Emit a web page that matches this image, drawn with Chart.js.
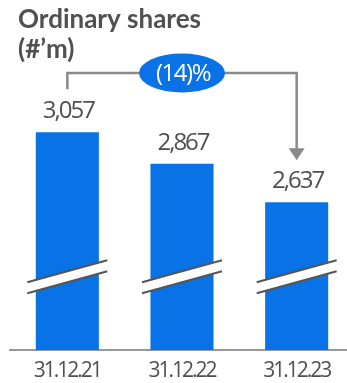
<!DOCTYPE html>
<html>
<head>
<meta charset="utf-8">
<script src="https://cdn.jsdelivr.net/npm/chart.js@4.4.1/dist/chart.umd.min.js"></script>
<style>
  html, body { margin: 0; padding: 0; background: #fff; overflow: hidden; }
  #wrap { width: 347px; height: 383px; overflow: hidden; }
</style>
</head>
<body>
<div id="wrap"><canvas id="myChart" width="354" height="383"></canvas></div>
<script>
const categories = ['31.12.21', '31.12.22', '31.12.23'];
const shares = [3057, 2867, 2637];
const valueLabels = ['3,057', '2,867', '2,637'];
const changeLabel = '(14)%';
const titleLines = ['Ordinary shares', '(#’m)'];

// truncated value axis, the break marks sit at breakValue
const axisMin = 1750;
const axisMax = 3250;
const breakValue = 2190;

const BLUE = '#0872E6';
const TEXT = '#505050';
const LINE = '#8a8a8a';
const FONT = "'Open Sans', sans-serif";

const decorations = {
    id: 'decorations',
    beforeDraw(chart) {
        chart.ctx.letterSpacing = '-2px';
    },
    afterDatasetsDraw(chart) {
        const ctx = chart.ctx;
        const y = chart.scales.y;
        const meta = chart.getDatasetMeta(0);

        // break marks across each bar
        const yb = y.getPixelForValue(breakValue);
        meta.data.forEach(function(bar) {
            const cx = bar.x;
            ctx.save();
            ctx.beginPath();
            ctx.moveTo(cx - 40, yb + 5.5 + 11);
            ctx.lineTo(cx + 40, yb + 5.5 - 11);
            ctx.lineTo(cx + 40, yb - 5.5 - 11);
            ctx.lineTo(cx - 40, yb - 5.5 + 11);
            ctx.closePath();
            ctx.fillStyle = '#fff';
            ctx.fill();
            ctx.strokeStyle = '#555';
            ctx.lineWidth = 2;
            ctx.beginPath();
            ctx.moveTo(cx - 40, yb - 5.5 + 11);
            ctx.lineTo(cx + 40, yb - 5.5 - 11);
            ctx.moveTo(cx - 40, yb + 5.5 + 11);
            ctx.lineTo(cx + 40, yb + 5.5 - 11);
            ctx.stroke();
            ctx.restore();
        });

        // value labels above bars
        ctx.save();
        ctx.font = '24px ' + FONT;
        ctx.fillStyle = TEXT;
        ctx.textAlign = 'center';
        ctx.textBaseline = 'middle';
        ctx.letterSpacing = '-2px';
        meta.data.forEach(function(bar, i) {
            ctx.fillText(valueLabels[i], bar.x + 1, bar.y - 21);
        });
        ctx.restore();

        // change connector from first to last bar
        const x0 = meta.data[0].x, x1 = meta.data[2].x, xm = meta.data[1].x;
        const lineY = 73;
        const tipY = meta.data[2].y - 42;
        ctx.save();
        ctx.strokeStyle = LINE;
        ctx.lineWidth = 2.5;
        ctx.beginPath();
        ctx.moveTo(x0, meta.data[0].y - 43);
        ctx.lineTo(x0, lineY);
        ctx.lineTo(x1, lineY);
        ctx.lineTo(x1, tipY - 10);
        ctx.stroke();
        ctx.fillStyle = LINE;
        ctx.beginPath();
        ctx.moveTo(x1 - 8, tipY - 12);
        ctx.lineTo(x1 + 8, tipY - 12);
        ctx.lineTo(x1, tipY);
        ctx.closePath();
        ctx.fill();

        ctx.fillStyle = BLUE;
        ctx.beginPath();
        ctx.ellipse(xm, lineY, 43, 19.5, 0, 0, Math.PI * 2);
        ctx.fill();
        ctx.fillStyle = '#fff';
        ctx.font = '24px ' + FONT;
        ctx.textAlign = 'center';
        ctx.textBaseline = 'middle';
        ctx.letterSpacing = '-1.5px';
        ctx.fillText(changeLabel, xm + 1, lineY + 1);
        ctx.restore();

        // title
        ctx.save();
        ctx.letterSpacing = '0px';
        ctx.font = 'bold 26px Lato, sans-serif';
        ctx.fillStyle = TEXT;
        ctx.textAlign = 'left';
        ctx.textBaseline = 'alphabetic';
        ctx.fillText(titleLines[0], 18, 28);
        ctx.fillText(titleLines[1], 18, 58);
        ctx.restore();
    }
};

new Chart(document.getElementById('myChart'), {
    type: 'bar',
    data: {
        labels: categories,
        datasets: [{
            data: shares,
            backgroundColor: BLUE,
            barPercentage: 0.55,
            categoryPercentage: 1
        }]
    },
    options: {
        responsive: false,
        animation: false,
        devicePixelRatio: 1,
        layout: { padding: { top: 100, left: 10, right: 0, bottom: 0 } },
        scales: {
            x: {
                grid: { display: false, drawTicks: false },
                border: { display: true, color: '#999', width: 2 },
                ticks: { color: TEXT, font: { family: FONT, size: 21 }, padding: 8 },
                afterFit: function(scale) { scale.height = 33; }
            },
            y: { display: false, min: axisMin, max: axisMax }
        },
        plugins: {
            legend: { display: false },
            tooltip: { enabled: false }
        }
    },
    plugins: [decorations]
});
</script>
</body>
</html>
